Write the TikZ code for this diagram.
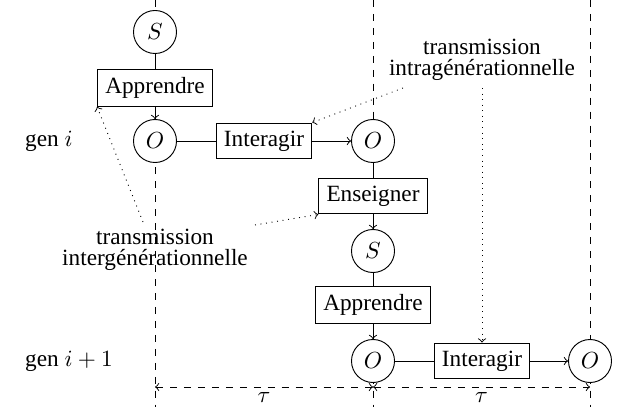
\documentclass[tikz,border=0pt]{standalone}
\usepackage{fontspec}
\setmainfont{Liberation Serif}
\begin{document}
\begin{tikzpicture}[x=0.43pt,y=-0.43pt,
  st/.style={circle,draw,fill=white,minimum size=18.5pt,inner sep=0pt},
  act/.style={rectangle,draw,fill=white},
  lbl/.style={align=center},
  tr/.style={->,dotted},
  timeline/.style={dashed}]
\useasboundingbox (0,0) rectangle (617,407);
% vertical time lines
\coordinate (v1t) at (155,0);   \coordinate (v1b) at (155,407);
\coordinate (v2t) at (373,0);   \coordinate (v2b) at (373,407);
\coordinate (v3t) at (590,0);   \coordinate (v3b) at (590,407);
\draw[timeline] (v1t) -- (v1b);
\draw[timeline] (v2t) -- (v2b);
\draw[timeline] (v3t) -- (v3b);
% nodes
\node[st]  (S1) at (155,32)  {$S$};
\node[act] (A1) at (155,88)  {Apprendre};
\node[st]  (O1) at (155,141) {$O$};
\node[act] (I1) at (264,141) {Interagir};
\node[st]  (O2) at (373,141) {$O$};
\node[act] (E)  at (373,196) {Enseigner};
\node[st]  (S2) at (373,251) {$S$};
\node[act] (A2) at (373,305) {Apprendre};
\node[st]  (O3) at (373,361) {$O$};
\node[act] (I2) at (482,361) {Interagir};
\node[st]  (O4) at (590,361) {$O$};
% connectors
\draw (S1) -- (A1);
\draw[->] (A1) -- (O1);
\draw (O1) -- (I1);
\draw[->] (I1) -- (O2);
\draw (O2) -- (E);
\draw[->] (E) -- (S2);
\draw (S2) -- (A2);
\draw[->] (A2) -- (O3);
\draw (O3) -- (I2);
\draw[->] (I2) -- (O4);
% generation labels
\node[anchor=west] (g1) at (17,141) {gen $i$};
\node[anchor=west] (g2) at (17,361) {gen $i+1$};
% transmission labels
\node[lbl] (intra) at (482,60) {transmission\\[-3pt]intragénérationnelle};
\node[lbl] (inter) at (155,250) {transmission\\[-3pt]intergénérationnelle};
\coordinate (c1) at (403,88);
\coordinate (c2) at (482,88);
\coordinate (c3) at (143,222);
\coordinate (c4) at (255,225);
\draw[tr] (c1) -- (I1.north east);
\draw[tr] (c2) -- (I2.north);
\draw[tr] (c3) -- (A1.south west);
\draw[tr] (c4) -- (E.south west);
% time spans
\coordinate (t1) at (155,387);
\coordinate (t2) at (373,387);
\coordinate (t3) at (590,387);
\draw[timeline,<->] (t1) -- node[below,inner sep=2pt] (tau1) {$\tau$} (t2);
\draw[timeline,<->] (t2) -- node[below,inner sep=2pt] (tau2) {$\tau$} (t3);
\end{tikzpicture}
\end{document}
